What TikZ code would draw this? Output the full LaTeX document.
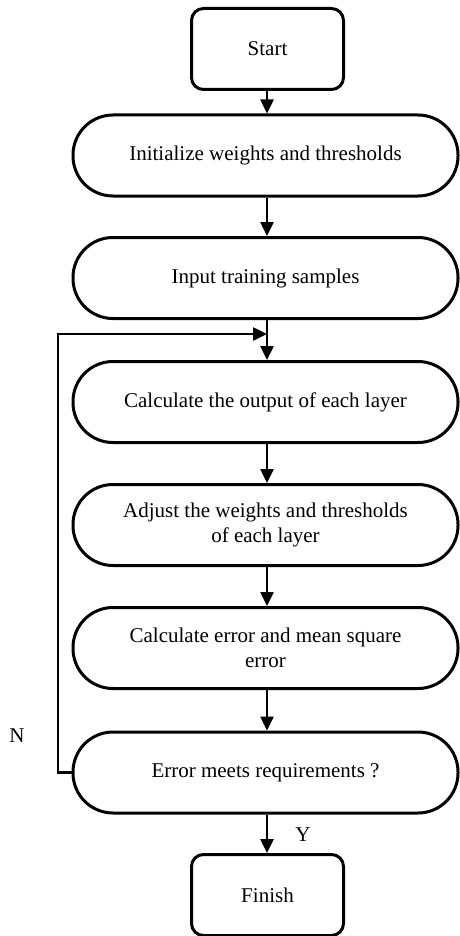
\documentclass[tikz,border=0pt]{standalone}
\usepackage{fontspec}
\setmainfont{Liberation Serif}
\usetikzlibrary{arrows.meta}
\begin{document}
\begin{tikzpicture}[x=1pt,y=-1pt,
  every node/.style={font=\fontsize{21}{25}\selectfont},
  wide/.style={draw,line width=3pt,rounded corners=40pt,minimum width=385pt,minimum height=81pt,align=center,inner sep=0pt},
  term/.style={draw,line width=3pt,rounded corners=12pt,minimum width=152pt,minimum height=81pt,align=center,inner sep=0pt},
  conn/.style={line width=2.5pt,-{Triangle[length=14pt,width=13pt]}},
  lbl/.style={inner sep=0pt}]
\useasboundingbox (0,0) rectangle (459,936);
\node[term] (start) at (267.5,49) {Start};
\node[wide] (init) at (265.5,155.5) {Initialize weights and thresholds};
\node[wide] (input) at (265.5,278) {Input training samples};
\node[wide] (calc) at (265.5,402) {Calculate the output of each layer};
\node[wide] (adj) at (265.5,525) {Adjust the weights and thresholds\\of each layer};
\node[wide] (err) at (265.5,648) {Calculate error and mean square\\error};
\node[wide] (meet) at (265.5,772.5) {Error meets requirements ?};
\node[term] (fin) at (267.5,895) {Finish};
\coordinate (m) at (267,334);
\draw[conn] (start.south -| m) -- (init.north -| m);
\draw[conn] (init.south -| m) -- (input.north -| m);
\draw[line width=2.5pt] (input.south -| m) -- (m);
\draw[conn] (m) -- (calc.north -| m);
\draw[conn] (calc.south -| m) -- (adj.north -| m);
\draw[conn] (adj.south -| m) -- (err.north -| m);
\draw[conn] (err.south -| m) -- (meet.north -| m);
\draw[conn] (meet.south -| m) -- (fin.north -| m);
\draw[conn] (meet.west) -- (58,772.5) -- (58,334) -- (m);
\node[lbl] (n) at (17,736) {N};
\node[lbl] (y) at (303,835) {Y};
\end{tikzpicture}
\end{document}
